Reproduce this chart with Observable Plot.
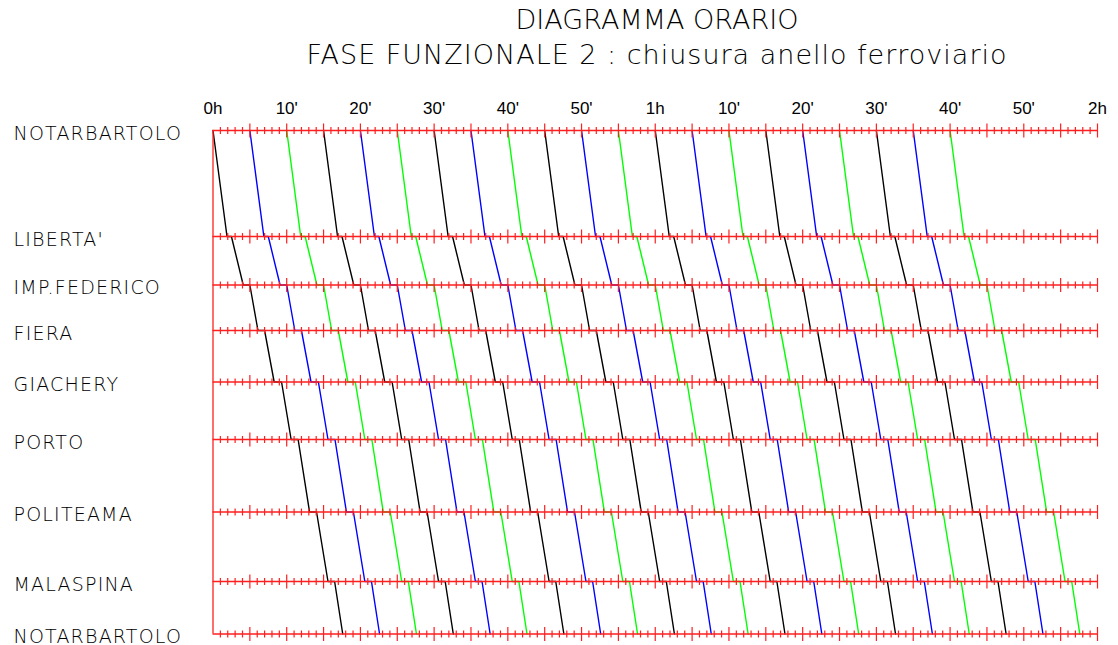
<!DOCTYPE html>
<html><head><meta charset="utf-8">
<script src="https://cdn.jsdelivr.net/npm/d3@7"></script>
<script src="https://cdn.jsdelivr.net/npm/@observablehq/plot@0.6"></script>
<style>
body{margin:0;background:#fff;width:1118px;height:645px;overflow:hidden;}
#title{height:75px;position:relative;font-family:"DejaVu Sans";font-weight:200;color:#000;}
#title div{position:absolute;left:157px;width:1000px;text-align:center;font-size:27px;line-height:27px;white-space:nowrap;}
#t1{top:6px;}
#t2{top:41px;letter-spacing:1px;}
#chart svg{display:block;}
</style></head><body>
<div id="title"><div id="t1">DIAGRAMMA ORARIO</div><div id="t2">FASE FUNZIONALE 2 : chiusura anello ferroviario</div></div>
<div id="chart"></div>
<script>
// Stations (top to bottom) and their position along the ring (arbitrary chainage units)
const stations = ["NOTARBARTOLO", "LIBERTA'", "IMP.FEDERICO", "FIERA", "GIACHERY", "PORTO", "POLITEAMA", "MALASPINA", "NOTARBARTOLO"];
const stationPos = [0, 106, 154.5, 200, 251.5, 309, 381.5, 451, 503.5];
// Running times (minutes after departure from Notarbartolo)
const arrMin = [0, 1.9, 4.1, 6.1, 8.3, 10.6, 13.1, 15.6, 17.6];
const depMin = [0, 2.5, 5.0, 7.0, 9.3, 11.55, 14.05, 16.5, 17.6];
// Departures from Notarbartolo (minutes)
const departures = [0, 5, 10, 15, 20, 25, 30, 35, 40, 45, 50, 55, 60, 65, 70, 75, 80, 85, 90, 95, 100];
const trainColors = ["#000000", "#0000ff", "#00ff00"];
// Time axis labels
const tickValues = [0, 10, 20, 30, 40, 50, 60, 70, 80, 90, 100, 110, 120];
const tickLabels = ["0h", "10'", "20'", "30'", "40'", "50'", "1h", "10'", "20'", "30'", "40'", "50'", "2h"];

const RED = "#ff1f1f";
const trainPoints = [];
departures.forEach((t0, k) => {
  stationPos.forEach((p, i) => {
    trainPoints.push({train: k, t: t0 + arrMin[i], pos: p, color: trainColors[k % 3]});
    if (depMin[i] !== arrMin[i]) trainPoints.push({train: k, t: t0 + depMin[i], pos: p, color: trainColors[k % 3]});
  });
});
const minutes = d3.range(1, 121);
const minorTicks = [], majorTicks = [];
stationPos.forEach(p => minutes.forEach(m => (m % 5 === 0 ? majorTicks : minorTicks).push({t: m, pos: p})));

const vtick = {draw(ctx, size) { const r = Math.sqrt(size / Math.PI); ctx.moveTo(0, -r); ctx.lineTo(0, r); }};

const svg = Plot.plot({
  width: 1118, height: 570,
  marginLeft: 212.5, marginRight: 21, marginTop: 55, marginBottom: 11.5,
  x: {domain: [0, 120], axis: null},
  y: {domain: [0, 503.5], reverse: true, axis: null},
  color: {type: "identity"},
  style: {background: "white", overflow: "visible"},
  marks: [
    Plot.line(trainPoints, {x: "t", y: "pos", z: "train", stroke: "color", strokeWidth: 1.4}),
    Plot.ruleY(stationPos, {x1: 0, x2: 120, stroke: RED, strokeWidth: 1.5}),
    Plot.ruleX([0], {y1: 0, y2: 503.5, stroke: RED, strokeWidth: 1.3}),
    Plot.dot(minorTicks, {x: "t", y: "pos", symbol: vtick, r: 3.5, stroke: RED, fill: "none", strokeWidth: 1.2}),
    Plot.dot(majorTicks, {x: "t", y: "pos", symbol: vtick, r: 7, stroke: RED, fill: "none", strokeWidth: 1.2}),
    Plot.text(tickValues, {x: d => d, y: 0, text: (d, i) => tickLabels[i], dy: -22, fontSize: 17, fontFamily: "Liberation Sans", fill: "#000"}),
    Plot.text(stations, {x: 0, y: (d, i) => stationPos[i], text: d => d, dx: -199.5, dy: 3, textAnchor: "start", fontSize: 19, fontFamily: "DejaVu Sans", fontWeight: 200, fill: "#000", className: "stn"})
  ]
});
d3.select(svg).selectAll("g.stn text").attr("letter-spacing", "1.2px");
document.getElementById("chart").appendChild(svg);
</script>
</body></html>
